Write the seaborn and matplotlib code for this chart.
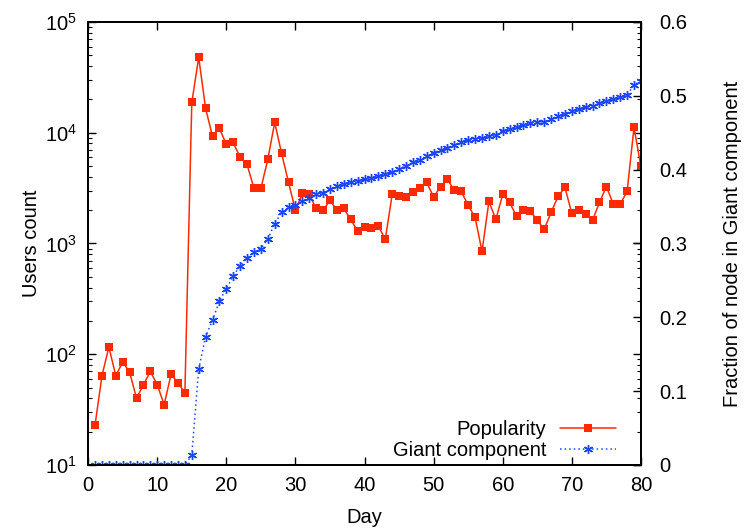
import numpy as np
import pandas as pd
import matplotlib
matplotlib.use("Agg")
import matplotlib.pyplot as plt
import matplotlib.ticker as mticker
import seaborn as sns

days = list(range(1, 81))

popularity = [
    23, 64, 116, 64, 85, 69, 40, 53, 70, 53,
    35, 66, 55, 45, 18770, 47860, 16560, 9270, 10940, 7840,
    8170, 5980, 5170, 3140, 3140, 5740, 12390, 6500, 3560, 1990,
    2830, 2770, 2070, 1990, 2450, 2000, 2070, 1650, 1290, 1400,
    1370, 1440, 1090, 2770, 2680, 2610, 2890, 3140, 3560, 2620,
    3270, 3790, 3010, 2950, 2210, 1720, 849, 2400, 1650, 2770,
    2350, 1760, 1990, 1950, 1620, 1340, 1910, 2660, 3210, 1870,
    1990, 1830, 1620, 2350, 3270, 2270, 2270, 2950, 11170, 4960,
]

giant = [
    0, 0, 0, 0, 0, 0, 0, 0, 0, 0,
    0, 0, 0, 0, 0.0135, 0.130, 0.174, 0.196, 0.222, 0.239,
    0.256, 0.270, 0.281, 0.288, 0.293, 0.306, 0.327, 0.342, 0.349, 0.352,
    0.357, 0.362, 0.367, 0.369, 0.374, 0.378, 0.381, 0.383, 0.385, 0.387,
    0.389, 0.391, 0.394, 0.397, 0.401, 0.405, 0.410, 0.413, 0.419, 0.423,
    0.427, 0.430, 0.433, 0.4375, 0.440, 0.442, 0.4425, 0.4456, 0.447, 0.4528,
    0.4555, 0.458, 0.4605, 0.4628, 0.464, 0.465, 0.468, 0.472, 0.476, 0.480,
    0.4826, 0.4845, 0.4867, 0.490, 0.493, 0.4957, 0.498, 0.5015, 0.5147, 0.5205,
]

x_ticks = [0, 10, 20, 30, 40, 50, 60, 70, 80]
y2_ticks = [0, 0.1, 0.2, 0.3, 0.4, 0.5, 0.6]

df = pd.DataFrame({"Day": days, "Popularity": popularity, "Giant": giant})

sns.set_style("ticks")
FS = 14.5
plt.rcParams["font.family"] = ["Liberation Sans", "DejaVu Sans"]
plt.rcParams["font.size"] = FS
plt.rcParams["mathtext.fontset"] = "custom"
plt.rcParams["mathtext.rm"] = "Liberation Sans"
plt.rcParams["mathtext.it"] = "Liberation Sans:italic"
for k in ("text.color", "axes.labelcolor", "xtick.color", "ytick.color"):
    plt.rcParams[k] = "black"

red = "#ff2a00"
blue = "#1a44ff"
asterisk = (6, 2, 0)

fig = plt.figure(figsize=(7.47, 5.31), dpi=100)
ax = fig.add_axes([0.118, 0.1243, 0.740, 0.8343])
ax2 = ax.twinx()

sns.lineplot(data=df, x="Day", y="Popularity", ax=ax, color=red, lw=1.1,
             marker="s", markersize=6, markeredgewidth=0, markerfacecolor=red,
             label="Popularity", legend=False)
sns.lineplot(data=df, x="Day", y="Giant", ax=ax2, color=blue, lw=1.1,
             linestyle=(0, (1, 2)), marker=asterisk, markersize=6.5,
             markeredgewidth=1.0, markeredgecolor=blue,
             label="Giant component", legend=False)

ax.set_yscale("log")
ax.set_ylim(10, 1e5)
ax.set_xlim(0, 80)
ax2.set_ylim(0, 0.6)
ax.set_xticks(x_ticks)
ax2.set_yticks(y2_ticks)
ax2.yaxis.set_major_formatter(mticker.FuncFormatter(lambda v, p: "0" if v == 0 else f"{v:.1f}"))
ax.yaxis.set_major_locator(mticker.LogLocator(base=10, numticks=10))
ax.yaxis.set_minor_locator(mticker.LogLocator(base=10, subs=np.arange(2, 10), numticks=20))
ax.yaxis.set_minor_formatter(mticker.NullFormatter())

ax.set_xlabel("Day", fontsize=FS, labelpad=9)
ax.set_ylabel("Users count", fontsize=FS, labelpad=3)
ax2.set_ylabel("Fraction of node in Giant component", fontsize=FS, labelpad=26)

for a in (ax, ax2):
    for s in a.spines.values():
        s.set_linewidth(1.3)
        s.set_color("black")
ax.tick_params(axis="x", which="major", direction="in", length=6, width=1, top=True, labelsize=FS, pad=8)
ax.tick_params(axis="y", which="major", direction="in", length=6, width=1, right=True, labelsize=FS, pad=8)
ax.tick_params(axis="y", which="minor", direction="in", length=3, width=0.8, right=True)
ax.tick_params(axis="x", which="minor", bottom=False, top=False)
ax2.tick_params(axis="y", which="major", direction="in", length=6, width=1, labelsize=FS, pad=13)
ax2.tick_params(axis="y", which="minor", right=False)

h1, l1 = ax.get_legend_handles_labels()
h2, l2 = ax2.get_legend_handles_labels()
leg = ax2.legend(h1 + h2, l1 + l2, loc="lower right", bbox_to_anchor=(0.962, 0.003),
                 frameon=False, markerfirst=False, handlelength=2.8,
                 fontsize=FS, labelspacing=0.08, borderaxespad=0.0, borderpad=0.2,
                 handletextpad=0.65)
for t in leg.get_texts():
    t.set_ha("right")

fig.savefig("out.png", dpi=100)
